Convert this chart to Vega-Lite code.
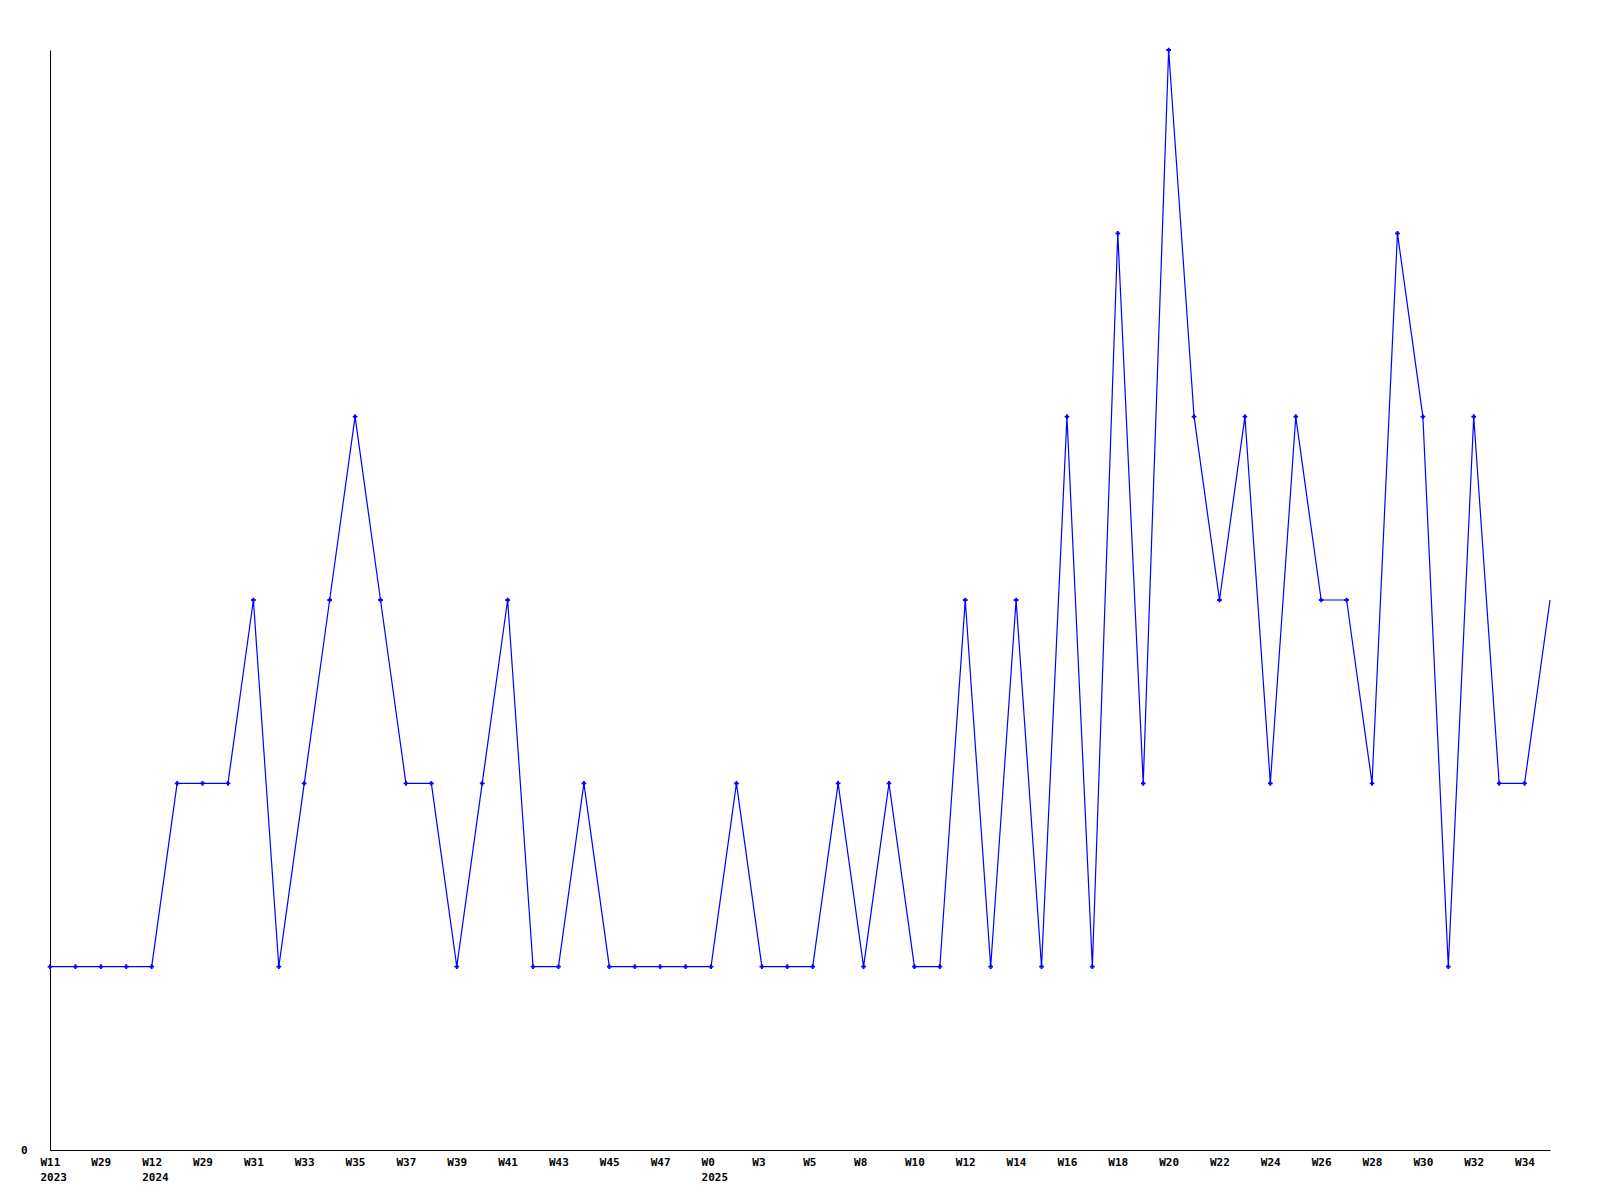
{
  "$schema": "https://vega.github.io/schema/vega-lite/v6.json",
  "width": 1500,
  "height": 1100,
  "autosize": {"type": "none"},
  "padding": {"left": 50, "top": 50, "right": 50, "bottom": 50},
  "background": "white",
  "config": {"view": {"stroke": null}, "font": "DejaVu Sans Mono"},
  "data": {
    "values": [
      {"i": 0, "v": 1}, {"i": 1, "v": 1}, {"i": 2, "v": 1}, {"i": 3, "v": 1}, {"i": 4, "v": 1},
      {"i": 5, "v": 2}, {"i": 6, "v": 2}, {"i": 7, "v": 2}, {"i": 8, "v": 3}, {"i": 9, "v": 1},
      {"i": 10, "v": 2}, {"i": 11, "v": 3}, {"i": 12, "v": 4}, {"i": 13, "v": 3}, {"i": 14, "v": 2},
      {"i": 15, "v": 2}, {"i": 16, "v": 1}, {"i": 17, "v": 2}, {"i": 18, "v": 3}, {"i": 19, "v": 1},
      {"i": 20, "v": 1}, {"i": 21, "v": 2}, {"i": 22, "v": 1}, {"i": 23, "v": 1}, {"i": 24, "v": 1},
      {"i": 25, "v": 1}, {"i": 26, "v": 1}, {"i": 27, "v": 2}, {"i": 28, "v": 1}, {"i": 29, "v": 1},
      {"i": 30, "v": 1}, {"i": 31, "v": 2}, {"i": 32, "v": 1}, {"i": 33, "v": 2}, {"i": 34, "v": 1},
      {"i": 35, "v": 1}, {"i": 36, "v": 3}, {"i": 37, "v": 1}, {"i": 38, "v": 3}, {"i": 39, "v": 1},
      {"i": 40, "v": 4}, {"i": 41, "v": 1}, {"i": 42, "v": 5}, {"i": 43, "v": 2}, {"i": 44, "v": 6},
      {"i": 45, "v": 4}, {"i": 46, "v": 3}, {"i": 47, "v": 4}, {"i": 48, "v": 2}, {"i": 49, "v": 4},
      {"i": 50, "v": 3}, {"i": 51, "v": 3}, {"i": 52, "v": 2}, {"i": 53, "v": 5}, {"i": 54, "v": 4},
      {"i": 55, "v": 1}, {"i": 56, "v": 4}, {"i": 57, "v": 2}, {"i": 58, "v": 2}, {"i": 59, "v": 3}
    ]
  },
  "encoding": {
    "x": {
      "field": "i", "type": "quantitative",
      "scale": {"domain": [0, 59], "nice": false, "zero": false},
      "axis": {
        "title": null, "grid": false, "ticks": false,
        "domainColor": "black", "domainWidth": 1,
        "values": [0,2,4,6,8,10,12,14,16,18,20,22,24,26,28,30,32,34,36,38,40,42,44,46,48,50,52,54,56,58],
        "labelExpr": "[['W11','2023'],'W29',['W12','2024'],'W29','W31','W33','W35','W37','W39','W41','W43','W45','W47',['W0','2025'],'W3','W5','W8','W10','W12','W14','W16','W18','W20','W22','W24','W26','W28','W30','W32','W34'][datum.value/2]",
        "labelAlign": "left", "labelBaseline": "top", "labelOffset": -10, "labelPadding": 6,
        "labelFont": "DejaVu Sans Mono", "labelFontSize": 11, "labelFontWeight": "bold",
        "labelColor": "black", "labelLineHeight": 15, "labelOverlap": false, "labelFlush": false
      }
    },
    "y": {
      "field": "v", "type": "quantitative",
      "scale": {"domain": [0, 6], "nice": false},
      "axis": {
        "title": null, "grid": false, "ticks": false,
        "domainColor": "black", "domainWidth": 1,
        "values": [0], "labelPadding": 23,
        "labelFont": "DejaVu Sans Mono", "labelFontSize": 11, "labelFontWeight": "bold",
        "labelColor": "black"
      }
    }
  },
  "layer": [
    {"mark": {"type": "line", "color": "#0000ff", "strokeWidth": 1.2}},
    {
      "transform": [{"filter": "datum.i < 59"}],
      "mark": {"type": "point", "shape": "cross", "filled": true, "color": "#0000ff", "size": 22, "opacity": 1}
    }
  ]
}
